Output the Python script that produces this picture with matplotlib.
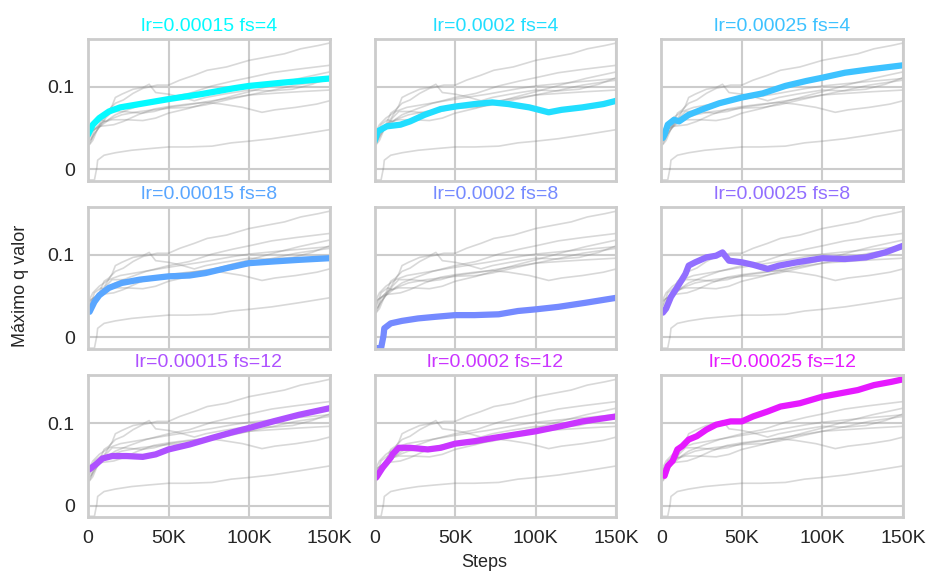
import matplotlib.pyplot as plt
import numpy as np
import seaborn as sns

sns.set_theme(style='whitegrid')
plt.rcParams['font.family'] = ['Liberation Sans', 'DejaVu Sans']
plt.rcParams['axes.linewidth'] = 2.0
plt.rcParams['grid.linewidth'] = 1.5
plt.rcParams['axes.edgecolor'] = '#cccccc'
plt.rcParams['grid.color'] = '#cccccc'

# runs: (lr, frame skip)
titles = ['lr=0.00015 fs=4', 'lr=0.0002 fs=4', 'lr=0.00025 fs=4',
          'lr=0.00015 fs=8', 'lr=0.0002 fs=8', 'lr=0.00025 fs=8',
          'lr=0.00015 fs=12', 'lr=0.0002 fs=12', 'lr=0.00025 fs=12']

# steps in thousands
x_a = [0, 3, 7, 13, 20, 32, 50, 70, 90, 100, 121, 150]
y_a = [0.042, 0.054, 0.062, 0.070, 0.075, 0.079, 0.085, 0.091, 0.098, 0.101, 0.105, 0.110]

x_b = [0, 2, 7.5, 16, 22, 31, 41, 50, 62, 73, 83, 96, 108, 116, 129, 142, 150]
y_b = [0.034, 0.046, 0.052, 0.054, 0.058, 0.066, 0.073, 0.076, 0.079, 0.081, 0.079, 0.075, 0.069,
       0.072, 0.075, 0.079, 0.083]

x_c = [1, 2, 4, 8, 11, 17, 26, 36, 50, 63, 77, 90, 100, 114, 129, 150]
y_c = [0.038, 0.042, 0.054, 0.060, 0.058, 0.066, 0.073, 0.080, 0.087, 0.092, 0.101, 0.107, 0.111,
       0.117, 0.121, 0.126]

x_d = [1, 4, 7, 13, 21, 32, 50, 63, 73, 86, 100, 115, 131, 150]
y_d = [0.031, 0.043, 0.051, 0.060, 0.066, 0.070, 0.074, 0.075, 0.078, 0.084, 0.090, 0.092, 0.094, 0.096]

x_e = [0, 4, 5.5, 6, 10, 17, 27, 38, 50, 62, 77, 89, 100, 114, 131, 150]
y_e = [-0.013, -0.013, 0.002, 0.011, 0.017, 0.020, 0.023, 0.025, 0.027, 0.027, 0.028, 0.032, 0.034,
       0.037, 0.042, 0.048]

x_f = [1, 3, 6, 10, 15, 17, 21, 28, 34, 38, 42, 50, 57, 66, 73, 84, 100, 114, 127, 139, 150]
y_f = [0.030, 0.035, 0.049, 0.061, 0.077, 0.087, 0.091, 0.097, 0.099, 0.103, 0.093, 0.091, 0.088,
       0.083, 0.087, 0.091, 0.096, 0.095, 0.097, 0.103, 0.111]

x_g = [1, 5, 9, 15, 24, 34, 42, 50, 63, 77, 90, 100, 115, 131, 150]
y_g = [0.044, 0.050, 0.057, 0.060, 0.060, 0.059, 0.062, 0.068, 0.074, 0.082, 0.089, 0.094, 0.102,
       0.110, 0.118]

x_h = [1, 5, 10, 11, 15, 22, 33, 41, 50, 62, 74, 87, 100, 115, 129, 150]
y_h = [0.034, 0.046, 0.058, 0.062, 0.070, 0.070, 0.068, 0.070, 0.075, 0.078, 0.082, 0.086, 0.090,
       0.096, 0.102, 0.108]

x_i = [2, 4, 7, 10, 13, 17, 22, 28, 34, 43, 50, 57, 66, 74, 86, 100, 111, 122, 132, 143, 150]
y_i = [0.036, 0.048, 0.054, 0.068, 0.072, 0.080, 0.084, 0.092, 0.098, 0.102, 0.102, 0.108, 0.114,
       0.120, 0.124, 0.132, 0.136, 0.140, 0.146, 0.150, 0.153]

xs = [x_a, x_b, x_c, x_d, x_e, x_f, x_g, x_h, x_i]
ys = [y_a, y_b, y_c, y_d, y_e, y_f, y_g, y_h, y_i]

colors = plt.cm.cool(np.linspace(0.02, 0.9, 9))

fig, axes = plt.subplots(3, 3, figsize=(9.29, 5.72), dpi=100, sharex=True, sharey=True)
fig.subplots_adjust(left=0.0947, right=0.972, top=0.932, bottom=0.096, wspace=0.186, hspace=0.185)

for i, ax in enumerate(axes.flat):
    for j in range(9):
        ax.plot([v * 1000 for v in xs[j]], ys[j], color='grey', alpha=0.3, lw=1.2)
    ax.plot([v * 1000 for v in xs[i]], ys[i], color=colors[i], lw=4.5)
    ax.set_title(titles[i], color=colors[i], fontsize=14, pad=6)
    ax.set_xlim(0, 150000)
    ax.set_ylim(-0.014, 0.158)
    ax.set_xticks([0, 50000, 100000, 150000])
    ax.set_xticklabels(['0', '50K', '100K', '150K'])
    ax.set_yticks([0, 0.1])
    ax.set_yticklabels(['0', '0.1'])
    ax.tick_params(labelsize=14)

fig.text(0.022, 0.5, 'Máximo q valor', rotation=90, va='center', ha='center', fontsize=13)
fig.text(0.521, 0.017, 'Steps', ha='center', va='center', fontsize=13)

plt.savefig('out.png')
